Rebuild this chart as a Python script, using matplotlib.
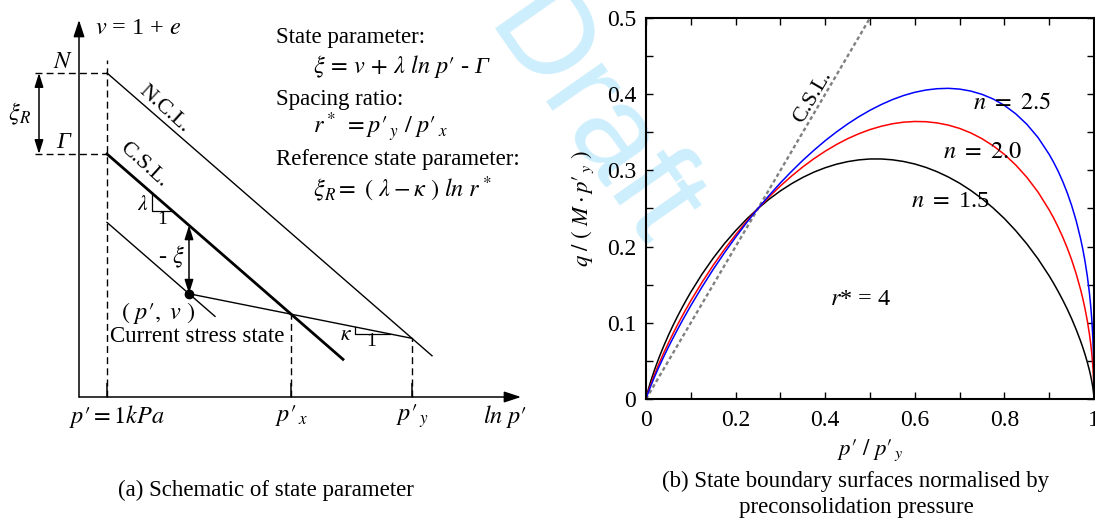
import numpy as np
import matplotlib
matplotlib.use("Agg")
import matplotlib.pyplot as plt
from matplotlib.ticker import MultipleLocator

plt.rcParams["font.family"] = ["Liberation Serif", "DejaVu Serif"]
plt.rcParams["mathtext.fontset"] = "stix"

# ---------------- schematic: ln p' (x) against specific volume v (y) ----------------
lam = 0.87        # slope of NCL and CSL
kap = 0.20        # slope of the swelling line
N_v = 3.24        # v on the NCL at p' = 1 kPa
Gam_v = 2.43      # v on the CSL at p' = 1 kPa
lnp_y = 3.05      # ln p'_y
lnp_cur = 0.82    # ln p' of the current stress state
ncl_end = 3.25    # extent of the NCL
csl_end = 2.36    # extent of the CSL
par_end = 1.08    # extent of the line through the current state parallel to the CSL

# ---------------- normalised state boundary surfaces, r* = 4 ----------------
pn = [0, 0.001, 0.0025, 0.005, 0.01, 0.02, 0.03, 0.04, 0.05, 0.06, 0.07, 0.08,
      0.09, 0.1, 0.125, 0.15, 0.175, 0.2, 0.225, 0.25, 0.275, 0.3, 0.325, 0.35,
      0.375, 0.4, 0.425, 0.45, 0.475, 0.5, 0.525, 0.55, 0.575, 0.6, 0.625, 0.65,
      0.675, 0.7, 0.725, 0.75, 0.775, 0.8, 0.825, 0.85, 0.875, 0.9, 0.91, 0.92,
      0.93, 0.94, 0.95, 0.96, 0.97, 0.975, 0.98, 0.985, 0.99, 0.9925, 0.995,
      0.9975, 0.999, 0.9995, 1.0]
q_n15 = [0, 0.0029, 0.0066, 0.0122, 0.0223, 0.0399, 0.0557, 0.0701, 0.0836,
         0.0962, 0.1081, 0.1193, 0.1300, 0.1403, 0.1638, 0.1849, 0.2039, 0.2209,
         0.2363, 0.25, 0.2623, 0.2731, 0.2826, 0.2908, 0.2978, 0.3035, 0.3081,
         0.3115, 0.3138, 0.3150, 0.3150, 0.3139, 0.3117, 0.3084, 0.3039, 0.2982,
         0.2913, 0.2832, 0.2737, 0.2629, 0.2506, 0.2368, 0.2211, 0.2036, 0.1839,
         0.1615, 0.1517, 0.1412, 0.1301, 0.1183, 0.1055, 0.0915, 0.0761, 0.0676,
         0.0585, 0.0484, 0.0371, 0.0307, 0.0234, 0.0148, 0.0080, 0.0051, 0]
q_n20 = [0, 0.0022, 0.0052, 0.0098, 0.0182, 0.0336, 0.0477, 0.0610, 0.0735,
         0.0855, 0.0970, 0.1080, 0.1186, 0.1289, 0.1531, 0.1755, 0.1962, 0.2155,
         0.2334, 0.25, 0.2654, 0.2796, 0.2926, 0.3046, 0.3154, 0.3252, 0.3339,
         0.3416, 0.3481, 0.3536, 0.3579, 0.3612, 0.3633, 0.3642, 0.3639, 0.3623,
         0.3594, 0.3551, 0.3492, 0.3416, 0.3323, 0.3210, 0.3073, 0.2910, 0.2716,
         0.2481, 0.2374, 0.2256, 0.2128, 0.1986, 0.1828, 0.1647, 0.1438, 0.1318,
         0.1183, 0.1029, 0.0843, 0.0731, 0.0598, 0.0424, 0.0268, 0.0190, 0]
q_n25 = [0, 0.0019, 0.0045, 0.0086, 0.0162, 0.0303, 0.0435, 0.0560, 0.0681,
         0.0796, 0.0908, 0.1017, 0.1122, 0.1225, 0.1470, 0.1701, 0.1918, 0.2123,
         0.2317, 0.25, 0.2673, 0.2836, 0.2988, 0.3132, 0.3265, 0.3390, 0.3504,
         0.3609, 0.3704, 0.3789, 0.3864, 0.3929, 0.3983, 0.4025, 0.4055, 0.4072,
         0.4077, 0.4067, 0.4041, 0.3998, 0.3937, 0.3853, 0.3744, 0.3606, 0.3432,
         0.3210, 0.3105, 0.2989, 0.2858, 0.2710, 0.2541, 0.2344, 0.2106, 0.1966,
         0.1805, 0.1616, 0.1380, 0.1232, 0.1050, 0.0797, 0.0554, 0.0420, 0]
csl_x = [0, 0.5]
csl_y = [0, 0.5]
x_ticks = [0, 0.2, 0.4, 0.6, 0.8, 1.0]
x_ticklabels = ["0", "0.2", "0.4", "0.6", "0.8", "1"]
y_ticks = [0, 0.1, 0.2, 0.3, 0.4, 0.5]
y_ticklabels = ["0", "0.1", "0.2", "0.3", "0.4", "0.5"]

W, H = 1095, 521
FS = 16.5
MS = 17.5
fig = plt.figure(figsize=(W / 100, H / 100), dpi=100)


def box(l, t, r, b):
    return [l / W, 1 - b / H, (r - l) / W, (b - t) / H]


# watermark behind both panels
fig.text(590 / W, 1 - 122 / H, "Draft", fontsize=92, color="#cdeefc",
         family="Liberation Sans", rotation=-55, ha="center", va="center",
         rotation_mode="anchor", zorder=-5)

# ======================= (a) schematic =======================
ax = fig.add_axes(box(79, 20, 521, 397))
ax.set_facecolor("none")
x_lo, x_hi, v_top = -0.28, 4.14, 3.77
ax.set_xlim(x_lo, x_hi)
ax.set_ylim(0, v_top)
for s in ax.spines.values():
    s.set_visible(False)

lnp_x = lnp_y - (N_v - Gam_v) / (lam - kap)
v_y = N_v - lam * lnp_y
v_x = Gam_v - lam * lnp_x
v_cur = v_y + kap * (lnp_y - lnp_cur)
v_csl_cur = Gam_v - lam * lnp_cur


def swell(x):
    return v_y + kap * (lnp_y - np.asarray(x))


def csl(x):
    return Gam_v - lam * np.asarray(x)


axis_arrow = dict(arrowstyle="-|>,head_length=0.85,head_width=0.28", color="k",
                  lw=1.1, shrinkA=0, shrinkB=0, mutation_scale=12)
ax.annotate("", xy=(x_hi, 0), xytext=(x_lo, 0), arrowprops=axis_arrow,
            annotation_clip=False)
ax.annotate("", xy=(x_lo, v_top), xytext=(x_lo, 0), arrowprops=axis_arrow,
            annotation_clip=False)

ax.set_xticks([0, lnp_x, lnp_y])
ax.set_xticklabels(["", r"$p\prime_{\,x}$", r"$p\prime_{\,y}$"], fontsize=MS)
ax.set_yticks([])
ax.tick_params(axis="x", direction="in", length=10, width=1.1, pad=4)

dash = (0, (5, 3))
dkw = dict(color="k", lw=1.0, ls=dash, clip_on=False)
ax.plot([0, 0], [0, N_v + 0.13], **dkw)
ax.plot([-0.72, 0], [N_v, N_v], **dkw)
ax.plot([-0.72, 0], [Gam_v, Gam_v], **dkw)
ax.plot([lnp_x, lnp_x], [0, v_x], **dkw)
ax.plot([lnp_y, lnp_y], [0, v_y], **dkw)

xs = np.array([0, ncl_end])
ax.plot(xs, N_v - lam * xs, color="k", lw=1.0)
xs = np.array([0, csl_end])
ax.plot(xs, csl(xs), color="k", lw=2.0)
xs = np.array([0, par_end])
ax.plot(xs, v_cur + lam * (lnp_cur - xs), color="k", lw=1.0)
xs = np.array([lnp_cur, lnp_y])
ax.plot(xs, swell(xs), color="k", lw=1.0)
ax.plot([lnp_cur], [v_cur], "o", color="k", ms=6)

# slope triangles
t0, tw = 0.45, 0.20
ax.plot([t0, t0, t0 + tw], [csl(t0), csl(t0 + tw), csl(t0 + tw)], color="k", lw=0.9)
k0, kw = 2.48, 0.35
ax.plot([k0, k0, k0 + kw], [swell(k0), swell(k0 + kw), swell(k0 + kw)], color="k", lw=0.9)

darrow = dict(arrowstyle="<|-|>,head_length=0.7,head_width=0.22", color="k",
              lw=1.1, shrinkA=0, shrinkB=0, mutation_scale=12)
ax.annotate("", xy=(-0.68, N_v), xytext=(-0.68, Gam_v), arrowprops=darrow,
            annotation_clip=False)
ax.annotate("", xy=(lnp_cur, v_csl_cur), xytext=(lnp_cur, v_cur), arrowprops=darrow)

tk = dict(ha="center", va="center", clip_on=False)
ax.text(-0.44, N_v + 0.11, r"$N$", fontsize=MS, **tk)
ax.text(-0.44, Gam_v + 0.11, "Γ", fontsize=MS, fontstyle="italic", **tk)
ax.text(-0.87, 2.83, r"$\xi_R$", fontsize=MS, **tk)
ax.text(0.57, 2.88, "N.C.L.", fontsize=FS - 0.5, rotation=-42, rotation_mode="anchor", **tk)
ax.text(0.37, 2.32, "C.S.L.", fontsize=FS - 0.5, rotation=-42, rotation_mode="anchor", **tk)
ax.text(0.36, 1.91, r"$\lambda$", fontsize=FS - 1, **tk)
ax.text(0.55, 1.78, "1", fontsize=FS - 2.5, **tk)
ax.text(2.39, 0.62, r"$\kappa$", fontsize=FS - 1, **tk)
ax.text(2.64, 0.55, "1", fontsize=FS - 2.5, **tk)
ax.text(0.64, 1.40, r"- $\xi$", fontsize=MS, **tk)
ax.text(0.51, 0.84, r"$(\ p\prime,\ v\ )$", fontsize=MS, **tk)
ax.text(0.90, 0.60, "Current stress state", fontsize=FS, **tk)
ax.text(0.10, -0.19, r"$p\prime = \mathit{1kPa}$", fontsize=MS, **tk)
ax.text(3.98, -0.19, r"$ln\ p\prime$", fontsize=MS, **tk)
ax.text(0.31, 3.69, r"$v$ = 1 + $e$", fontsize=MS, **tk)

lk = dict(ha="left", va="center", clip_on=False)
ax.text(1.69, 3.59, "State parameter:", fontsize=FS, **lk)
ax.text(2.06, 3.30, r"$\xi\,=\,v\,+\,\lambda\ ln\ p\prime$ - Γ", fontsize=MS,
        fontstyle="italic", **lk)
ax.text(1.69, 2.98, "Spacing ratio:", fontsize=FS, **lk)
ax.text(2.06, 2.70, r"$r^*\ =p\prime_{\,y}\ /\ p\prime_{\,x}$", fontsize=MS, **lk)
ax.text(1.69, 2.38, "Reference state parameter:", fontsize=FS, **lk)
ax.text(2.06, 2.08, r"$\xi_R =\ (\ \lambda - \kappa\ )\ ln\ r^*$", fontsize=MS, **lk)

fig.text(266 / W, 1 - 490 / H, "(a) Schematic of state parameter",
         fontsize=FS, ha="center", va="center")

# ======================= (b) state boundary surfaces =======================
bx = fig.add_axes(box(646, 18, 1094, 399))
bx.set_facecolor("none")
bx.plot(csl_x, csl_y, color="#808080", lw=1.7, ls=(0, (1.6, 1.2)))
bx.plot(pn, q_n15, color="k", lw=1.1)
bx.plot(pn, q_n20, color="#ff0000", lw=1.1)
bx.plot(pn, q_n25, color="#0000ff", lw=1.1)
bx.set_xlim(0, 1)
bx.set_ylim(0, 0.5)
bx.set_xticks(x_ticks)
bx.set_xticklabels(x_ticklabels)
bx.set_yticks(y_ticks)
bx.set_yticklabels(y_ticklabels)
bx.xaxis.set_minor_locator(MultipleLocator(0.1))
bx.yaxis.set_minor_locator(MultipleLocator(0.05))
bx.tick_params(which="both", direction="in", top=True, right=True,
               length=5, width=1.0, labelsize=FS + 0.5)
bx.tick_params(axis="x", pad=8)
bx.tick_params(axis="y", pad=7)
for s in bx.spines.values():
    s.set_linewidth(1.5)

bx.text(0.373, 0.396, "C.S.L.", fontsize=FS - 0.5, rotation=59.5,
        rotation_mode="anchor", ha="center", va="center")
bx.text(0.817, 0.388, r"$n\ =\ \mathit{2.5}$", fontsize=MS, ha="center", va="center")
bx.text(0.752, 0.324, r"$n\ =\ \mathit{2.0}$", fontsize=MS, ha="center", va="center")
bx.text(0.679, 0.259, r"$n\ =\ $1.5", fontsize=MS, ha="center", va="center")
bx.text(0.478, 0.130, r"$r$* = 4", fontsize=MS, ha="center", va="center")

bx.text(-0.141, 0.50, r"$q\ /\ (\ M\cdot p\prime_{\,y}\ )$", fontsize=FS,
        rotation=90, ha="center", va="center", transform=bx.transAxes)
bx.text(0.5, -0.134, r"$p\prime\ /\ p\prime_{\,y}$", fontsize=FS,
        ha="center", va="center", transform=bx.transAxes)

fig.text(856 / W, 1 - 481 / H, "(b) State boundary surfaces normalised by",
         fontsize=FS, ha="center", va="center")
fig.text(856 / W, 1 - 507 / H, "preconsolidation pressure",
         fontsize=FS, ha="center", va="center")

fig.savefig("out.png", dpi=100)
